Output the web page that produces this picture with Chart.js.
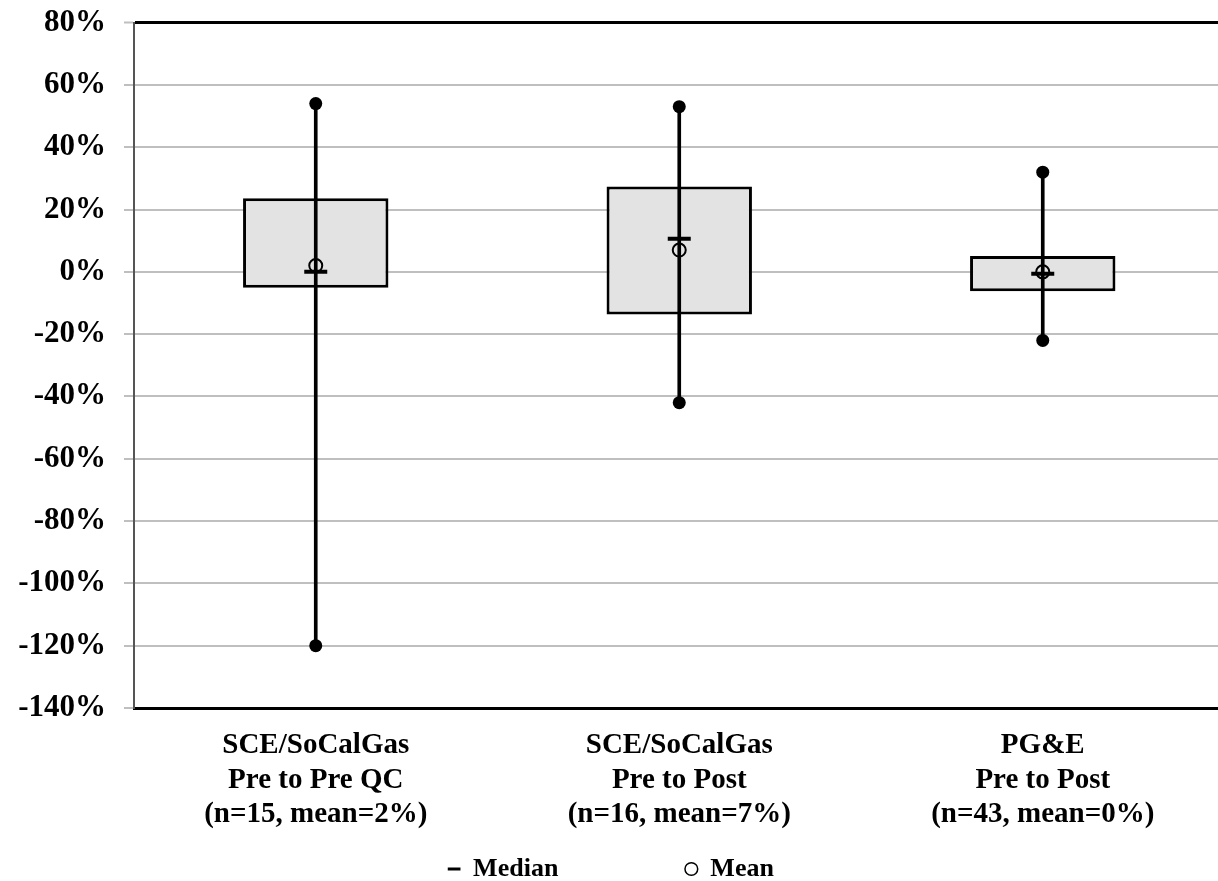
<!DOCTYPE html>
<html>
<head>
<meta charset="utf-8">
<script src="https://cdn.jsdelivr.net/npm/chart.js@4.4.0/dist/chart.umd.min.js"></script>
<style>
html, body { margin: 0; padding: 0; overflow: hidden; background: #fff; width: 1218px; height: 881px; }
#wrap { position: absolute; left: 0; top: -14px; width: 1240px; height: 909px; }
</style>
</head>
<body>
<div id="wrap"><canvas id="c" width="1240" height="909"></canvas></div>
<script>
// ---- data ----
const categories = [
  ["SCE/SoCalGas", "Pre to Pre QC", "(n=15, mean=2%)"],
  ["SCE/SoCalGas", "Pre to Post", "(n=16, mean=7%)"],
  ["PG&E", "Pre to Post", "(n=43, mean=0%)"]
];
const minValues = [-120, -42, -22];
const q1Values = [-5.1, -13.7, -6.2];
const medianValues = [0, 10.6, -0.6];
const meanValues = [2, 7, 0];
const q3Values = [23.6, 27.4, 5.1];
const maxValues = [54, 53, 32];
const yTicks = { min: -140, max: 80, step: 20 };
const legendLabels = ["Median", "Mean"];

const FONT = "'Liberation Serif', 'Times New Roman', serif";

const boxData = categories.map((_, i) => [q1Values[i], q3Values[i]]);
const rangeData = categories.map((_, i) => [minValues[i], maxValues[i]]);

new Chart(document.getElementById('c'), {
  type: 'bar',
  data: {
    labels: categories,
    datasets: [
      {
        label: 'Box', data: boxData,
        backgroundColor: '#e3e3e3', borderColor: '#000', borderWidth: 3, borderSkipped: false,
        barPercentage: 0.4, categoryPercentage: 1, grouped: false, order: 5
      },
      {
        label: 'Range', data: rangeData,
        backgroundColor: '#000', borderWidth: 0, barThickness: 3, grouped: false, order: 4
      },
      {
        type: 'line', label: 'Max', data: maxValues, showLine: false,
        pointStyle: 'circle', pointRadius: 6.5, pointBackgroundColor: '#000', pointBorderColor: '#000', pointBorderWidth: 0, order: 3
      },
      {
        type: 'line', label: 'Min', data: minValues, showLine: false,
        pointStyle: 'circle', pointRadius: 6.5, pointBackgroundColor: '#000', pointBorderColor: '#000', pointBorderWidth: 0, order: 3
      },
      {
        type: 'line', label: legendLabels[0], data: medianValues, showLine: false,
        pointStyle: 'line', pointRadius: 11.5, pointBorderWidth: 4, pointBorderColor: '#000', pointBackgroundColor: '#000', order: 2
      },
      {
        type: 'line', label: legendLabels[1], data: meanValues, showLine: false,
        pointStyle: 'circle', pointRadius: 6.5, pointBorderWidth: 2, pointBorderColor: '#000', pointBackgroundColor: 'rgba(0,0,0,0)', order: 1
      }
    ]
  },
  options: {
    responsive: false,
    animation: false,
    devicePixelRatio: 1,
    layout: { padding: { top: 4, right: 5, left: 0, bottom: 3 } },
    plugins: {
      tooltip: { enabled: false },
      legend: {
        position: 'bottom',
        labels: {
          usePointStyle: true, boxWidth: 12, boxHeight: 9, padding: 10, color: '#000',
          font: { family: FONT, size: 26, weight: 'bold' },
          generateLabels: () => [
            { text: legendLabels[0] + '\u00A0'.repeat(18), pointStyle: 'line', fillStyle: '#000', strokeStyle: '#000', lineWidth: 3, hidden: false, datasetIndex: 4, fontColor: '#000' },
            { text: legendLabels[1] + '\u00A0'.repeat(2), pointStyle: 'circle', fillStyle: '#fff', strokeStyle: '#000', lineWidth: 1.5, hidden: false, datasetIndex: 5, fontColor: '#000' }
          ]
        }
      }
    },
    scales: {
      x: {
        ticks: { font: { family: FONT, size: 29, weight: 'bold' }, color: '#000', padding: 20, maxRotation: 0, autoSkip: false },
        grid: { display: false, drawTicks: false },
        border: { display: true, color: '#000', width: 3 },
        afterFit: s => { s.height = 138; }
      },
      y: {
        min: yTicks.min, max: yTicks.max,
        ticks: { stepSize: yTicks.step, callback: v => v + '%', font: { family: FONT, size: 31, weight: 'bold' }, color: '#000', padding: 18 },
        grid: {
          color: c => (c.tick && c.tick.value === yTicks.max) ? '#000' : '#bfbfbf',
          lineWidth: c => (c.tick && c.tick.value === yTicks.max) ? 3 : 2,
          tickColor: '#bfbfbf', tickWidth: 2, tickLength: 10
        },
        border: { color: '#555', width: 2 },
        afterFit: s => { s.width = 134; }
      }
    }
  }
});
</script>
</body>
</html>
